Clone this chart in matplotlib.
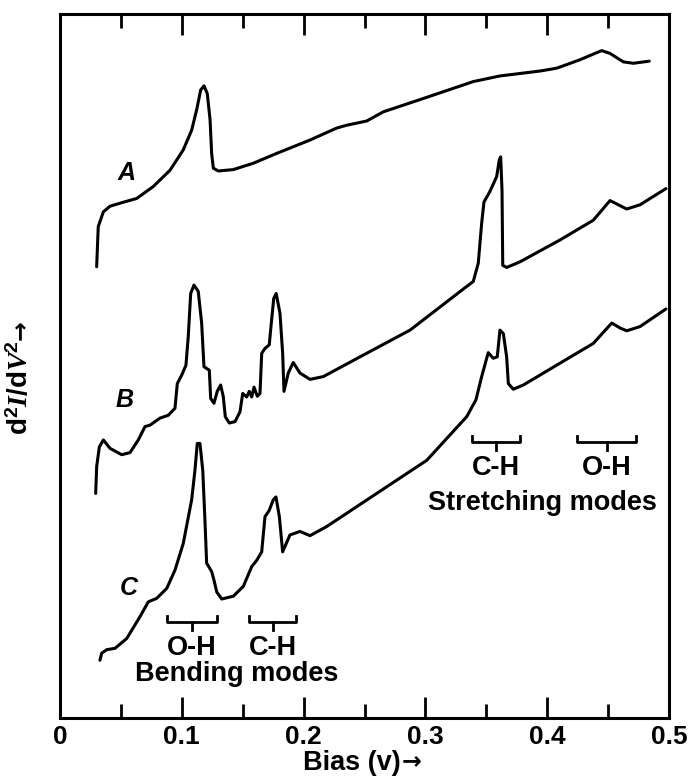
import matplotlib
matplotlib.use("Agg")
import matplotlib.pyplot as plt

plt.rcParams['font.family'] = ['Liberation Sans', 'DejaVu Sans']
plt.rcParams['font.weight'] = 'bold'
plt.rcParams['axes.labelweight'] = 'bold'
plt.rcParams['mathtext.fontset'] = 'custom'
plt.rcParams['mathtext.rm'] = 'Liberation Sans:bold'
plt.rcParams['mathtext.bf'] = 'Liberation Sans:bold'
plt.rcParams['mathtext.it'] = 'Liberation Serif:italic:bold'
plt.rcParams['mathtext.fallback'] = 'stixsans'

# spectrum A
bias_a = [0.0301, 0.0314, 0.0356, 0.0411, 0.0507, 0.0630, 0.0766, 0.0903, 0.1012,
          0.1081, 0.1122, 0.1155, 0.1182, 0.1209, 0.1232, 0.1245, 0.1259, 0.1300,
          0.1423, 0.1587, 0.1779, 0.2053, 0.2272, 0.2354, 0.2436, 0.2518, 0.2654,
          0.2983, 0.3393, 0.3612, 0.3941, 0.4078, 0.4269, 0.4447, 0.4516, 0.4625,
          0.4707, 0.4838]
sig_a = [64.1, 69.8, 71.9, 72.7, 73.2, 73.8, 75.5, 77.8, 80.7,
         83.5, 86.4, 89.2, 89.8, 88.7, 85.0, 80.2, 78.1, 77.7,
         77.9, 78.8, 80.2, 82.1, 83.8, 84.2, 84.5, 84.8, 86.1,
         88.0, 90.4, 91.2, 91.9, 92.3, 93.5, 94.8, 94.4, 93.2,
         93.0, 93.3]

# spectrum B
bias_b = [0.0293, 0.0301, 0.0323, 0.0356, 0.0411, 0.0507, 0.0575, 0.0643, 0.0698,
          0.0739, 0.0780, 0.0821, 0.0889, 0.0944, 0.0963, 0.0999, 0.1034, 0.1053,
          0.1073, 0.1100, 0.1135, 0.1163, 0.1182, 0.1226, 0.1237, 0.1264, 0.1291,
          0.1319, 0.1341, 0.1357, 0.1390, 0.1437, 0.1478, 0.1500, 0.1533, 0.1554,
          0.1574, 0.1593, 0.1620, 0.1642, 0.1656, 0.1683, 0.1718, 0.1732, 0.1755,
          0.1775, 0.1806, 0.1828, 0.1839, 0.1874, 0.1915, 0.1970, 0.2053, 0.2162,
          0.2463, 0.2874, 0.3339, 0.3393, 0.3434, 0.3462, 0.3481, 0.3530, 0.3585,
          0.3607, 0.3618, 0.3629, 0.3635, 0.3667, 0.3777, 0.4105, 0.4378, 0.4516,
          0.4584, 0.4653, 0.4762, 0.4975]
sig_b = [31.9, 35.7, 38.5, 39.5, 38.3, 37.4, 37.7, 39.5, 41.4,
         41.6, 42.1, 42.6, 43.0, 44.0, 47.5, 48.7, 50.1, 54.2,
         60.3, 61.5, 60.6, 56.1, 49.9, 49.4, 45.4, 44.7, 46.4,
         47.3, 45.6, 42.8, 41.9, 42.1, 43.5, 46.1, 45.6, 46.4,
         45.6, 47.0, 45.7, 46.1, 51.8, 52.5, 53.0, 55.6, 59.6,
         60.3, 57.5, 51.8, 46.4, 49.0, 50.5, 49.0, 48.1, 48.5,
         51.3, 55.1, 61.3, 62.0, 64.6, 70.3, 73.3, 74.8, 76.9,
         79.3, 79.7, 75.0, 64.3, 64.0, 64.8, 67.9, 70.7, 73.5,
         72.9, 72.3, 72.9, 75.2]

# spectrum C
bias_c = [0.0328, 0.0342, 0.0383, 0.0452, 0.0548, 0.0657, 0.0725, 0.0794, 0.0876,
          0.0944, 0.1012, 0.1081, 0.1108, 0.1127, 0.1149, 0.1172, 0.1190, 0.1204,
          0.1245, 0.1264, 0.1287, 0.1328, 0.1423, 0.1505, 0.1574, 0.1615, 0.1656,
          0.1683, 0.1718, 0.1751, 0.1773, 0.1801, 0.1828, 0.1888, 0.1970, 0.2053,
          0.2190, 0.2600, 0.3011, 0.3339, 0.3415, 0.3462, 0.3516, 0.3557, 0.3590,
          0.3612, 0.3640, 0.3667, 0.3681, 0.3722, 0.3804, 0.4105, 0.4378, 0.4530,
          0.4598, 0.4653, 0.4762, 0.4975]
sig_c = [8.2, 9.2, 9.7, 9.9, 11.3, 14.4, 16.5, 17.0, 18.4,
         21.0, 24.8, 31.0, 35.2, 39.0, 39.0, 35.2, 28.1, 22.0,
         20.8, 19.6, 17.9, 16.9, 17.3, 18.7, 21.5, 22.4, 23.6,
         28.6, 29.5, 31.0, 31.4, 28.6, 23.6, 26.0, 26.5, 25.9,
         27.2, 31.9, 36.6, 42.8, 45.2, 48.5, 51.9, 51.1, 51.3,
         55.1, 54.6, 51.3, 47.5, 46.7, 47.3, 50.4, 53.2, 56.1,
         55.4, 55.0, 55.6, 58.1]

curve_names = ['A', 'B', 'C']
curve_label_pos = [(0.0548, 77.4), (0.0534, 45.2), (0.0561, 18.4)]

# mode brackets: (left, right, bar level, label)
brackets = [(0.338, 0.3777, 39.2, 'C-H'),
            (0.4247, 0.4727, 39.2, 'O-H'),
            (0.0881, 0.1287, 13.6, 'O-H'),
            (0.1554, 0.1938, 13.6, 'C-H')]
group_labels = ['Stretching modes', 'Bending modes']
group_label_pos = [(0.3963, 30.5), (0.1453, 6.25)]

major_ticks = [0, 0.1, 0.2, 0.3, 0.4, 0.5]
major_labels = ['0', '0.1', '0.2', '0.3', '0.4', '0.5']
minor_ticks = [0.05, 0.15, 0.25, 0.35, 0.45]

fig = plt.figure(figsize=(6.89, 7.80), dpi=100)
ax = fig.add_axes([60 / 689, 1 - 718 / 780, 609 / 689, 704 / 780])

for xs, ys in zip([bias_a, bias_b, bias_c], [sig_a, sig_b, sig_c]):
    ax.plot(xs, ys, color='black', lw=2.2, solid_joinstyle='round', solid_capstyle='round')

for name, (lx, ly) in zip(curve_names, curve_label_pos):
    ax.text(lx, ly, name, fontsize=18, fontstyle='italic', fontweight='bold',
            ha='center', va='center')

for left, right, level, lab in brackets:
    mid = (left + right) / 2
    ax.plot([left, left, right, right], [level + 0.9, level, level, level + 0.9],
            color='black', lw=2.0)
    ax.plot([mid, mid], [level, level - 1.1], color='black', lw=2.0)
    ax.text(mid, level - 3.7, lab, fontsize=19.5, ha='center', va='center')

for lab, (gx, gy) in zip(group_labels, group_label_pos):
    ax.text(gx, gy, lab, fontsize=19.5, ha='center', va='center')

ax.set_xlim(0, 0.5)
ax.set_ylim(0, 100)
ax.set_xticks(major_ticks)
ax.set_xticklabels(major_labels)
ax.set_xticks(minor_ticks, minor=True)
ax.tick_params(axis='x', which='both', direction='in', top=True, width=2.0,
               labelsize=19, pad=5)
ax.tick_params(axis='x', which='major', length=15)
ax.tick_params(axis='x', which='minor', length=10)
ax.set_yticks([])
for sp in ax.spines.values():
    sp.set_linewidth(2.2)

# axis labels, arrows drawn in DejaVu Sans (full-size arrow glyph)
ax.set_xlabel('Bias (v)', fontsize=19.5)
ax.xaxis.set_label_coords(0.48, -0.046)
ax.set_ylabel(r'd$^2$$I$/d$V$$^2$', fontsize=20)
ax.yaxis.set_label_coords(-0.043, 0.47)
ax.annotate('→', xy=(1, 0.58), xycoords=ax.xaxis.label, ha='left', va='center',
            fontsize=17, fontweight='bold', family='DejaVu Sans')
ax.annotate('→', xy=(0.5, 1), xycoords=ax.yaxis.label, ha='center', va='bottom',
            rotation=90, fontsize=17, fontweight='bold', family='DejaVu Sans')

fig.savefig('out.png', dpi=100)
